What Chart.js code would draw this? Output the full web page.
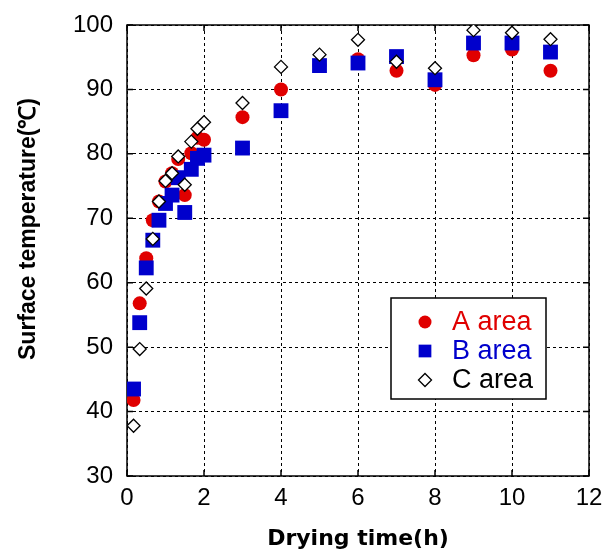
<!DOCTYPE html>
<html><head><meta charset="utf-8">
<script src="https://cdn.jsdelivr.net/npm/chart.js@4/dist/chart.umd.min.js"></script>
<style>html,body{margin:0;padding:0;background:#fff;}</style>
</head><body>
<canvas id="c" width="604" height="553"></canvas>
<script>
const times = [0.17,0.33,0.5,0.67,0.83,1.0,1.17,1.33,1.5,1.67,1.83,2.0,3,4,5,6,7,8,9,10,11];
const seriesLabels = ['A area','B area','C area'];
const areaA = [41.8,56.8,63.8,69.7,72.6,75.7,77.0,79.2,73.6,80.1,82.5,82.2,85.7,90.0,93.8,94.7,92.9,90.7,95.3,96.2,92.9];
const areaB = [43.5,53.8,62.3,66.6,69.7,72.3,73.6,76.3,70.9,77.6,79.3,79.8,80.9,86.7,93.7,94.1,95.1,91.5,97.2,97.2,95.8];
const areaC = [37.8,49.7,59.1,66.8,72.6,75.8,77.0,79.6,75.2,81.9,83.9,84.9,87.9,93.5,95.4,97.7,94.3,93.3,99.2,98.8,97.8];
const xTickValues = [0,2,4,6,8,10,12];
const yTickValues = [30,40,50,60,70,80,90,100];
const xTitle = 'Drying time(h)';
const yTitle = 'Surface temperature(℃)';

const RED = '#e00000', BLUE = '#0000cc';
const toPts = arr => arr.map((v,i)=>({x: times[i], y: v}));

const framePlugin = {
  id: 'frame',
  beforeDatasetsDraw(chart) {
    const {ctx, chartArea: a, scales} = chart;
    ctx.save();
    ctx.strokeStyle = '#000';
    ctx.lineWidth = 1.5;
    ctx.strokeRect(a.left, a.top, a.right - a.left, a.bottom - a.top);
    const L = 6;
    ctx.beginPath();
    scales.x.ticks.forEach(t => {
      const px = scales.x.getPixelForValue(t.value);
      ctx.moveTo(px, a.bottom); ctx.lineTo(px, a.bottom - L);
      ctx.moveTo(px, a.top); ctx.lineTo(px, a.top + L);
    });
    scales.y.ticks.forEach(t => {
      const py = scales.y.getPixelForValue(t.value);
      ctx.moveTo(a.left, py); ctx.lineTo(a.left + L, py);
      ctx.moveTo(a.right, py); ctx.lineTo(a.right - L, py);
    });
    ctx.stroke();
    // y axis title
    ctx.translate(29, 229);
    ctx.rotate(-Math.PI / 2);
    ctx.fillStyle = '#000';
    ctx.font = 'bold 23px "Liberation Sans", Arial, sans-serif';
    ctx.textAlign = 'center';
    ctx.textBaseline = 'middle';
    ctx.fillText(yTitle, 0, 0);
    ctx.restore();
  },
  afterDatasetsDraw(chart) {
    const {ctx} = chart;
    const bx = 391, by = 298, bw = 155, bh = 101;
    ctx.save();
    ctx.fillStyle = '#fff';
    ctx.fillRect(bx, by, bw, bh);
    ctx.strokeStyle = '#000';
    ctx.lineWidth = 1.5;
    ctx.strokeRect(bx, by, bw, bh);
    const rows = [322, 351, 380];
    const colors = [RED, BLUE, '#000'];
    chart.data.datasets.forEach((ds, i) => {
      const st = {pointStyle: ds.pointStyle, radius: ds.pointStyle === 'rect' ? 9 : 6.5, borderWidth: ds.borderWidth, rotation: 0};
      ctx.fillStyle = ds.backgroundColor;
      ctx.strokeStyle = ds.borderColor;
      ctx.lineWidth = ds.borderWidth;
      Chart.helpers.drawPoint(ctx, st, 425, rows[i]);
      ctx.fillStyle = colors[i];
      ctx.font = '27px "Liberation Sans", Arial, sans-serif';
      ctx.textBaseline = 'middle';
      ctx.textAlign = 'left';
      ctx.fillText(ds.label, 452, rows[i] + 1);
    });
    ctx.restore();
  }
};

Chart.defaults.font.family = '"Liberation Sans", Arial, sans-serif';
Chart.defaults.color = '#000';

new Chart(document.getElementById('c'), {
  type: 'scatter',
  data: {
    datasets: [
      {label: seriesLabels[0], data: toPts(areaA), pointStyle: 'circle', pointRadius: 7, backgroundColor: RED, borderColor: RED, borderWidth: 0, order: 2},
      {label: seriesLabels[1], data: toPts(areaB), pointStyle: 'rect', pointRadius: 10.5, backgroundColor: BLUE, borderColor: BLUE, borderWidth: 0, order: 1},
      {label: seriesLabels[2], data: toPts(areaC), pointStyle: 'rectRot', pointRadius: 6.5, backgroundColor: '#fff', borderColor: '#000', borderWidth: 1.3, order: 0}
    ]
  },
  options: {
    responsive: false,
    animation: false,
    devicePixelRatio: 1,
    layout: {padding: {left: 0, right: 15, top: 25, bottom: 0}},
    plugins: {legend: {display: false}, tooltip: {enabled: false}},
    scales: {
      x: {
        type: 'linear', min: 0, max: 12,
        afterBuildTicks(s) { s.ticks = xTickValues.map(v => ({value: v})); },
        afterFit(s) { s.height = 77; s.paddingLeft = 0; s.paddingRight = 0; },
        ticks: {font: {size: 24}, padding: 8, color: '#000', maxRotation: 0},
        grid: {color: '#000', lineWidth: 1, drawTicks: false},
        border: {display: false, dash: [3, 3]},
        title: {display: true, text: xTitle, font: {family: '"DejaVu Sans", sans-serif', size: 22, weight: 'bold'}, padding: {top: 0, bottom: 1}, color: '#000'}
      },
      y: {
        type: 'linear', min: 30, max: 100,
        afterBuildTicks(s) { s.ticks = yTickValues.map(v => ({value: v})); },
        afterFit(s) { s.width = 127; s.paddingTop = 0; s.paddingBottom = 0; },
        ticks: {font: {size: 24}, padding: 14, color: '#000'},
        grid: {color: '#000', lineWidth: 1, drawTicks: false},
        border: {display: false, dash: [3, 3]},
        title: {display: false}
      }
    }
  },
  plugins: [framePlugin]
});
</script>
</body></html>
